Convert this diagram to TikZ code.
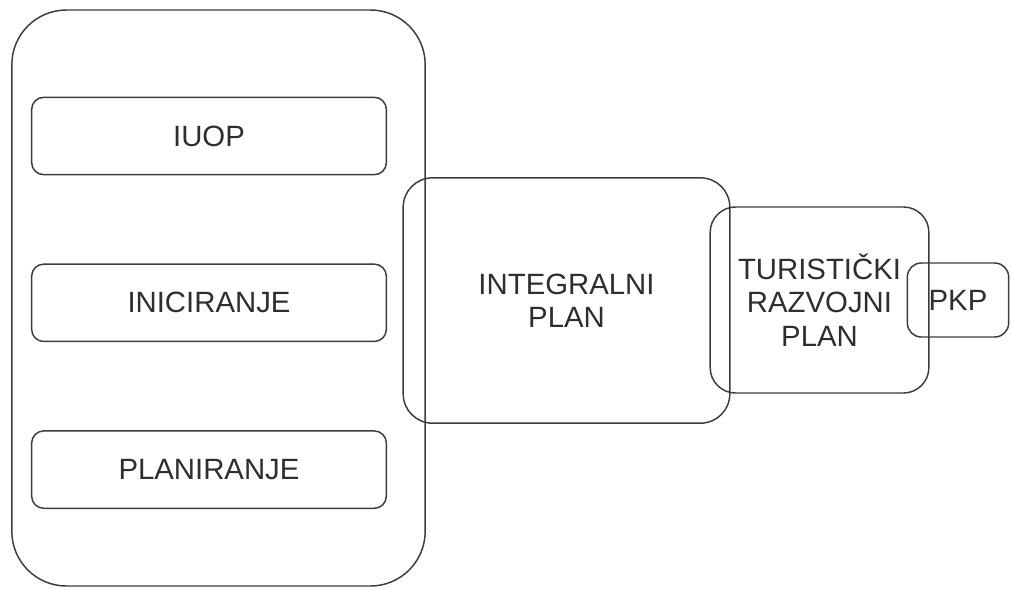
\documentclass[tikz,border=0pt]{standalone}
\usepackage{fontspec}
\setmainfont{Liberation Sans}
\usetikzlibrary{positioning}
\definecolor{linija}{HTML}{3C3C3C}
\definecolor{tekst}{HTML}{2E2E2E}

\begin{document}
\begin{tikzpicture}[x=0.75pt, y=-0.75pt, node distance=66pt,
		okvir/.style={draw=linija, line width=1.1pt, rounded corners=#1, inner sep=0pt,
			align=center, text=tekst, font=\fontsize{22}{25}\selectfont},
		faza/.style={okvir=9pt, minimum width=266pt, minimum height=58pt}]
		\useasboundingbox (0,0) rectangle (1012,589);
		\node[okvir=41pt, minimum width=310pt, minimum height=432pt] (proces) at (218.5,298) {};
		\node[faza] (iuop) at (209,136) {IUOP};
		\node[faza, below=of iuop] (inic) {INICIRANJE};
		\node[faza, below=of inic] (plan) {PLANIRANJE};
		\node[okvir=22pt, minimum width=245pt, minimum height=184pt] (integ) at (566.5,300.5) {INTEGRALNI\\PLAN};
		\node[okvir=19pt, minimum width=164pt, minimum height=139.5pt] (turist) at (819.5,300) {TURISTIČKI\\RAZVOJNI\\PLAN};
		\node[okvir=10.5pt, minimum width=76pt, minimum height=55.5pt] (pkp) at (958,300) {PKP};
		\end{tikzpicture}
\end{document}
